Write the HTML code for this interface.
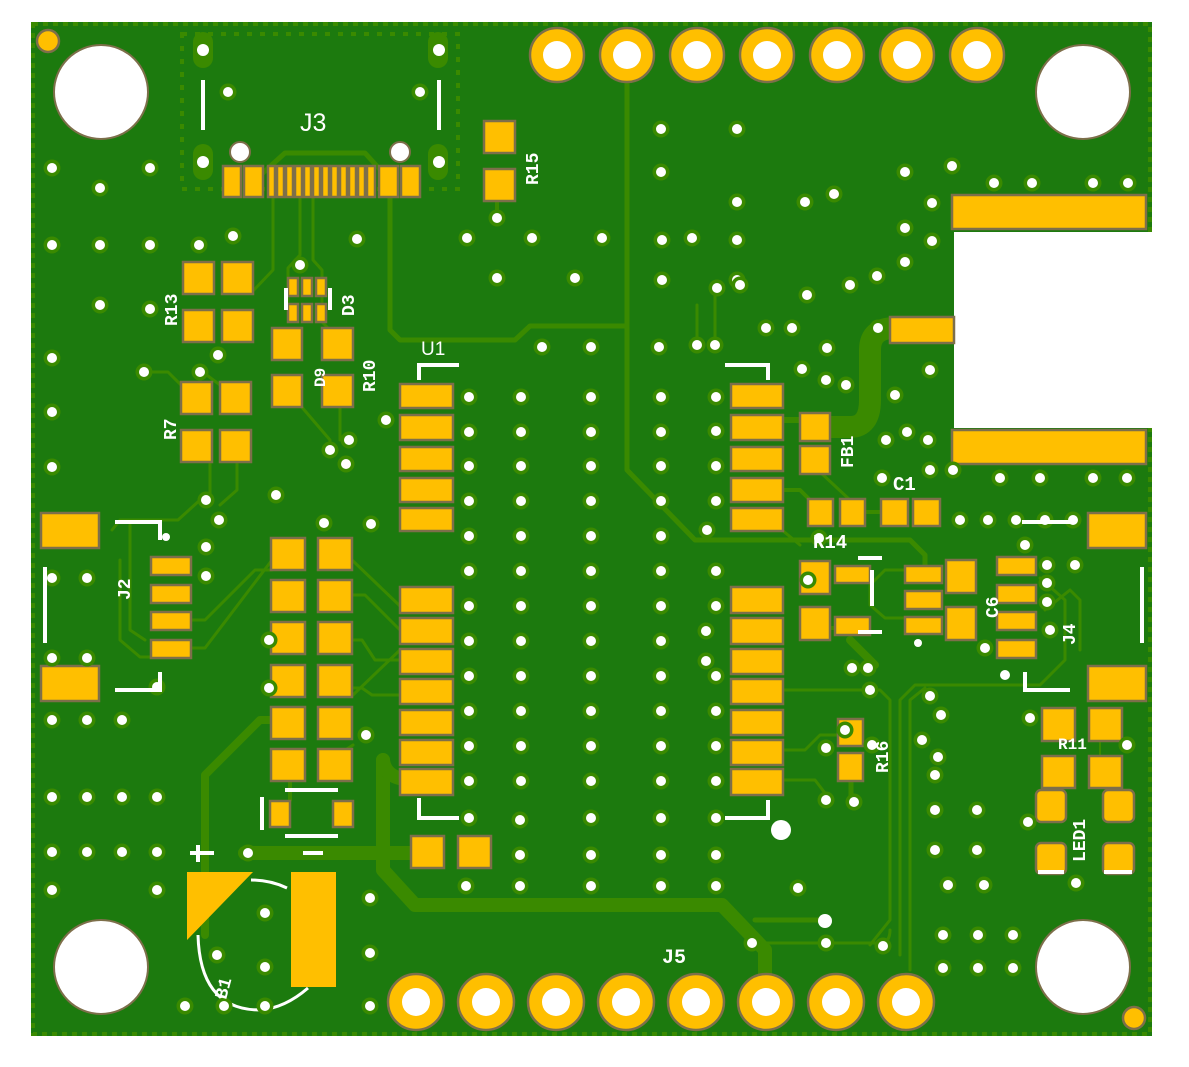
<!DOCTYPE html>
<html><head><meta charset="utf-8"><style>
html,body{margin:0;padding:0;background:#fff;}
svg{display:block;}
text{font-family:"Liberation Mono","DejaVu Sans Mono",monospace;fill:#fff;font-weight:bold;}
</style></head><body>
<svg width="1189" height="1067" viewBox="0 0 1189 1067" xmlns="http://www.w3.org/2000/svg">
<defs>
<g id="v"><circle r="8.5" fill="#3a8a00"/><circle r="5" fill="#fff"/></g>
</defs>
<!-- board -->
<rect x="31" y="22" width="1121" height="1014" fill="#1c7a0e"/>
<rect x="33" y="24" width="1117" height="1010" fill="none" stroke="#3a8a00" stroke-width="4" stroke-dasharray="5 5"/>
<!-- cutout -->
<rect x="954" y="232" width="200" height="196" fill="#fff"/>

<!-- J3 frame dotted -->
<rect x="182" y="34" width="276" height="155" fill="none" stroke="#3a8a00" stroke-width="4" stroke-dasharray="5 8"/>

<!-- traces -->
<g fill="none" stroke="#3a8a00" stroke-linecap="round" stroke-linejoin="round">
<path d="M627 80 V470 L695 540 H910 L925 555 V565" stroke-width="5"/>
<path d="M390 190 V330 L400 340 H515 L530 326 H627" stroke-width="5"/>
<path d="M255 180 L285 153 H365 L385 175" stroke-width="5"/>
<path d="M273 192 V270 L252 292" stroke-width="3"/>
<path d="M300 192 V255 L288 268 V305" stroke-width="3"/>
<path d="M313 192 V260 L322 270 V322 L330 330" stroke-width="3"/>
<path d="M815 427 H850 Q870 427 870 400 V350 Q870 328 895 328" stroke-width="22"/>
<path d="M383 760 V870 L415 905 H722 L765 950 V975" stroke-width="14"/>
<path d="M245 853 H415" stroke-width="14"/>
<path d="M415 780 Q385 780 383 760" stroke-width="14"/>
<path d="M205 935 V775 L260 720 H272" stroke-width="8"/>
<path d="M353 695 L400 650" stroke-width="3"/>
<path d="M330 760 L353 745" stroke-width="3"/>
<path d="M290 782 V800" stroke-width="4"/>
<path d="M120 560 V640 L140 657 H151" stroke-width="3"/>
<path d="M130 525 V630 L145 640" stroke-width="3"/>
<path d="M191 648 H205 L272 560" stroke-width="3"/>
<path d="M191 620 H205 L255 570 H272" stroke-width="3"/>
<path d="M352 560 L400 606" stroke-width="3"/>
<path d="M352 595 H365 L400 630" stroke-width="3"/>
<path d="M352 640 H362 L375 660 H400" stroke-width="3"/>
<path d="M352 688 H362 L372 695 H400" stroke-width="3"/>
<path d="M200 500 L178 520 H120 L112 530" stroke-width="3"/>
<path d="M210 462 V500" stroke-width="3"/>
<path d="M237 462 V490 L220 505" stroke-width="3"/>
<path d="M140 372 H168 L181 385" stroke-width="3"/>
<path d="M200 370 L220 385" stroke-width="3"/>
<path d="M300 405 L330 440 V452" stroke-width="3"/>
<path d="M340 407 V440" stroke-width="3"/>
<path d="M497 200 V218" stroke-width="4"/>
<path d="M783 490 H800 L810 500" stroke-width="4"/>
<path d="M820 472 L850 500" stroke-width="3"/>
<path d="M865 512 H881" stroke-width="4"/>
<path d="M782 530 L800 545" stroke-width="3"/>
<path d="M830 628 H835" stroke-width="4"/>
<path d="M850 640 L875 665" stroke-width="8"/>
<path d="M935 570 H885 L870 585 V605 L885 618 H907" stroke-width="3"/>
<path d="M782 690 H880 L890 700 V920 L870 945" stroke-width="3"/>
<path d="M900 955 V700 L915 685 H1040 L1065 660 V600 L1040 578" stroke-width="3"/>
<path d="M910 970 V700 L925 688" stroke-width="3"/>
<path d="M782 750 H805 L820 735 H838" stroke-width="3"/>
<path d="M782 780 H815 L828 797" stroke-width="3"/>
<path d="M851 781 V800" stroke-width="5"/>
<path d="M1045 610 L1070 590 L1080 600 V650" stroke-width="3"/>
<path d="M1100 741 V760" stroke-width="2"/>
<path d="M1105 788 L1120 800" stroke-width="3"/>
<path d="M782 420 H800" stroke-width="6"/>
<path d="M715 285 V348" stroke-width="3"/>
<path d="M697 305 V348" stroke-width="3"/>
<path d="M820 920 L755 920" stroke-width="5"/>
<path d="M762 943 H880 Q890 943 890 930" stroke-width="3"/>
</g>

<!-- J3 slots -->
<g fill="#3a8a00"><rect x="193" y="32" width="20" height="36" rx="10"/><rect x="193" y="144" width="20" height="36" rx="10"/><rect x="428" y="32" width="20" height="36" rx="10"/><rect x="428" y="144" width="20" height="36" rx="10"/></g>
<g fill="#fff"><circle cx="203" cy="50" r="6"/><circle cx="203" cy="162" r="6"/><circle cx="439" cy="50" r="6"/><circle cx="439" cy="162" r="6"/></g>
<g stroke="#fff" stroke-width="4"><line x1="203" y1="80" x2="203" y2="130"/><line x1="439" y1="80" x2="439" y2="130"/></g>
<circle cx="240" cy="152" r="10" fill="#fff" stroke="#7d6f4a" stroke-width="2"/>
<circle cx="400" cy="152" r="10" fill="#fff" stroke="#7d6f4a" stroke-width="2"/>

<!-- pads -->
<g fill="#ffbf00" stroke="#7d6f4a" stroke-width="2.5">
<!-- J3 pads -->
<rect x="223" y="166" width="18" height="31"/><rect x="244" y="166" width="19" height="31"/>
<rect x="268" y="166" width="7" height="31"/><rect x="277" y="166" width="7" height="31"/><rect x="286" y="166" width="7" height="31"/><rect x="295" y="166" width="7" height="31"/><rect x="304" y="166" width="7" height="31"/><rect x="313" y="166" width="7" height="31"/><rect x="322" y="166" width="7" height="31"/><rect x="331" y="166" width="7" height="31"/><rect x="340" y="166" width="7" height="31"/><rect x="349" y="166" width="7" height="31"/><rect x="358" y="166" width="7" height="31"/><rect x="367" y="166" width="8" height="31"/>
<rect x="379" y="166" width="19" height="31"/><rect x="401" y="166" width="19" height="31"/>
<!-- R15 -->
<rect x="484" y="121" width="31" height="32"/><rect x="484" y="169" width="31" height="32"/>
<!-- R13/R12 -->
<rect x="183" y="262" width="31" height="32"/><rect x="222" y="262" width="31" height="32"/><rect x="183" y="310" width="31" height="32"/><rect x="222" y="310" width="31" height="32"/>
<!-- R7/R8 -->
<rect x="181" y="382" width="31" height="32"/><rect x="220" y="382" width="31" height="32"/><rect x="181" y="430" width="31" height="32"/><rect x="220" y="430" width="31" height="32"/>
<!-- D3 -->
<rect x="288" y="278" width="10" height="18"/><rect x="302" y="278" width="10" height="18"/><rect x="316" y="278" width="10" height="18"/>
<rect x="288" y="304" width="10" height="18"/><rect x="302" y="304" width="10" height="18"/><rect x="316" y="304" width="10" height="18"/>
<!-- D9/R10 -->
<rect x="272" y="328" width="30" height="32"/><rect x="322" y="328" width="31" height="32"/><rect x="272" y="375" width="30" height="32"/><rect x="322" y="375" width="31" height="32"/>
<!-- U1 left -->
<rect x="400" y="384" width="53" height="24"/><rect x="400" y="415" width="53" height="25"/><rect x="400" y="447" width="53" height="24"/><rect x="400" y="478" width="53" height="24"/><rect x="400" y="508" width="53" height="23"/>
<rect x="400" y="587" width="53" height="26"/><rect x="400" y="618" width="53" height="26"/><rect x="400" y="649" width="53" height="25"/><rect x="400" y="679" width="53" height="25"/><rect x="400" y="710" width="53" height="25"/><rect x="400" y="740" width="53" height="25"/><rect x="400" y="769" width="53" height="26"/>
<!-- U1 right -->
<rect x="731" y="384" width="52" height="24"/><rect x="731" y="415" width="52" height="25"/><rect x="731" y="447" width="52" height="24"/><rect x="731" y="478" width="52" height="24"/><rect x="731" y="508" width="52" height="23"/>
<rect x="731" y="587" width="52" height="26"/><rect x="731" y="618" width="52" height="26"/><rect x="731" y="649" width="52" height="25"/><rect x="731" y="679" width="52" height="25"/><rect x="731" y="710" width="52" height="25"/><rect x="731" y="740" width="52" height="25"/><rect x="731" y="769" width="52" height="26"/>
<!-- left column pads -->
<rect x="271" y="538" width="34" height="32"/><rect x="318" y="538" width="34" height="32"/>
<rect x="271" y="580" width="34" height="32"/><rect x="318" y="580" width="34" height="32"/>
<rect x="271" y="622" width="34" height="32"/><rect x="318" y="622" width="34" height="32"/>
<rect x="271" y="665" width="34" height="32"/><rect x="318" y="665" width="34" height="32"/>
<rect x="271" y="707" width="34" height="32"/><rect x="318" y="707" width="34" height="32"/>
<rect x="271" y="749" width="34" height="32"/><rect x="318" y="749" width="34" height="32"/>
<rect x="270" y="801" width="20" height="26"/><rect x="333" y="801" width="20" height="26"/>
<rect x="411" y="836" width="33" height="32"/><rect x="458" y="836" width="33" height="32"/>
<!-- J2 -->
<rect x="41" y="513" width="58" height="35"/><rect x="41" y="666" width="58" height="35"/>
<rect x="151" y="557" width="40" height="18"/><rect x="151" y="585" width="40" height="18"/><rect x="151" y="612" width="40" height="18"/><rect x="151" y="640" width="40" height="18"/>
<!-- J4 -->
<rect x="1088" y="513" width="58" height="35"/><rect x="1088" y="666" width="58" height="35"/>
<rect x="997" y="557" width="39" height="18"/><rect x="997" y="585" width="39" height="18"/><rect x="997" y="612" width="39" height="18"/><rect x="997" y="640" width="39" height="18"/>
<!-- middle right cluster -->
<rect x="800" y="561" width="30" height="33"/><rect x="835" y="566" width="35" height="17"/>
<rect x="800" y="607" width="30" height="33"/><rect x="835" y="617" width="35" height="18"/>
<rect x="905" y="566" width="37" height="17"/><rect x="905" y="591" width="37" height="18"/><rect x="905" y="617" width="37" height="17"/>
<rect x="946" y="560" width="30" height="33"/><rect x="946" y="607" width="30" height="33"/>
<!-- FB1 -->
<rect x="800" y="413" width="30" height="28"/><rect x="800" y="446" width="30" height="28"/>
<!-- R14/C1 -->
<rect x="808" y="499" width="25" height="27"/><rect x="840" y="499" width="25" height="27"/><rect x="881" y="499" width="27" height="27"/><rect x="913" y="499" width="27" height="27"/>
<!-- R16 -->
<rect x="838" y="719" width="25" height="27"/><rect x="838" y="753" width="25" height="28"/>
<!-- R11 -->
<rect x="1042" y="708" width="33" height="33"/><rect x="1089" y="708" width="33" height="33"/><rect x="1042" y="756" width="33" height="32"/><rect x="1089" y="756" width="33" height="32"/>
<!-- LED1 -->
<rect x="1036" y="790" width="30" height="32" rx="5"/><rect x="1103" y="790" width="31" height="32" rx="5"/><rect x="1036" y="843" width="30" height="31" rx="5"/><rect x="1103" y="843" width="31" height="31" rx="5"/>
<!-- RF / antenna -->
<rect x="890" y="317" width="64" height="26"/>
<rect x="952" y="195" width="194" height="34"/><rect x="952" y="430" width="194" height="34"/>
</g>
<!-- B1 -->
<polygon points="187,872 253,872 187,940" fill="#ffbf00"/>
<rect x="291" y="872" width="45" height="115" fill="#ffbf00"/>
<path d="M251 880 Q270 880 287 888 M198 935 Q200 1010 260 1010 Q285 1008 308 988" fill="none" stroke="#fff" stroke-width="3"/>

<!-- header pins -->
<g fill="#ffbf00" stroke="#7d6f4a" stroke-width="2.5">
<circle cx="557" cy="55" r="27"/><circle cx="627" cy="55" r="27"/><circle cx="697" cy="55" r="27"/><circle cx="767" cy="55" r="27"/><circle cx="837" cy="55" r="27"/><circle cx="907" cy="55" r="27"/><circle cx="977" cy="55" r="27"/>
<circle cx="416" cy="1002" r="28"/><circle cx="486" cy="1002" r="28"/><circle cx="556" cy="1002" r="28"/><circle cx="626" cy="1002" r="28"/><circle cx="696" cy="1002" r="28"/><circle cx="766" cy="1002" r="28"/><circle cx="836" cy="1002" r="28"/><circle cx="906" cy="1002" r="28"/>
<circle cx="48" cy="41" r="11"/><circle cx="1134" cy="1018" r="11"/>
</g>
<g fill="#fff">
<circle cx="557" cy="55" r="14"/><circle cx="627" cy="55" r="14"/><circle cx="697" cy="55" r="14"/><circle cx="767" cy="55" r="14"/><circle cx="837" cy="55" r="14"/><circle cx="907" cy="55" r="14"/><circle cx="977" cy="55" r="14"/>
<circle cx="416" cy="1002" r="14"/><circle cx="486" cy="1002" r="14"/><circle cx="556" cy="1002" r="14"/><circle cx="626" cy="1002" r="14"/><circle cx="696" cy="1002" r="14"/><circle cx="766" cy="1002" r="14"/><circle cx="836" cy="1002" r="14"/><circle cx="906" cy="1002" r="14"/>
</g>
<!-- mounting holes -->
<g fill="#fff" stroke="#7d6f4a" stroke-width="2">
<ellipse cx="101" cy="92" rx="47" ry="47"/><ellipse cx="1083" cy="92" rx="47" ry="47"/><ellipse cx="101" cy="967" rx="47" ry="47"/><ellipse cx="1083" cy="967" rx="47" ry="47"/>
</g>

<!-- vias -->
<g>
<use href="#v" x="52" y="168"/><use href="#v" x="100" y="188"/><use href="#v" x="150" y="168"/>
<use href="#v" x="52" y="245"/><use href="#v" x="100" y="245"/><use href="#v" x="150" y="245"/><use href="#v" x="100" y="305"/><use href="#v" x="150" y="309"/><use href="#v" x="52" y="358"/><use href="#v" x="52" y="412"/><use href="#v" x="52" y="467"/>
<use href="#v" x="228" y="92"/><use href="#v" x="233" y="236"/><use href="#v" x="199" y="245"/><use href="#v" x="420" y="92"/><use href="#v" x="357" y="239"/><use href="#v" x="300" y="265"/><use href="#v" x="218" y="355"/><use href="#v" x="200" y="372"/><use href="#v" x="144" y="372"/><use href="#v" x="330" y="450"/><use href="#v" x="349" y="440"/><use href="#v" x="346" y="464"/><use href="#v" x="276" y="495"/><use href="#v" x="324" y="523"/><use href="#v" x="371" y="524"/><use href="#v" x="386" y="420"/><use href="#v" x="206" y="500"/><use href="#v" x="219" y="520"/><use href="#v" x="206" y="547"/><use href="#v" x="206" y="576"/>
<use href="#v" x="497" y="218"/><use href="#v" x="467" y="238"/><use href="#v" x="532" y="238"/><use href="#v" x="602" y="238"/><use href="#v" x="497" y="278"/><use href="#v" x="575" y="278"/><use href="#v" x="662" y="280"/><use href="#v" x="737" y="280"/><use href="#v" x="662" y="240"/><use href="#v" x="737" y="240"/><use href="#v" x="692" y="238"/><use href="#v" x="737" y="202"/><use href="#v" x="661" y="129"/><use href="#v" x="737" y="129"/><use href="#v" x="661" y="172"/><use href="#v" x="805" y="202"/><use href="#v" x="905" y="172"/><use href="#v" x="834" y="194"/><use href="#v" x="952" y="166"/><use href="#v" x="994" y="183"/><use href="#v" x="1032" y="183"/><use href="#v" x="1093" y="183"/><use href="#v" x="1128" y="183"/><use href="#v" x="932" y="203"/><use href="#v" x="932" y="241"/><use href="#v" x="905" y="228"/><use href="#v" x="905" y="262"/><use href="#v" x="877" y="276"/><use href="#v" x="850" y="285"/><use href="#v" x="807" y="295"/><use href="#v" x="792" y="328"/><use href="#v" x="827" y="348"/><use href="#v" x="878" y="328"/><use href="#v" x="846" y="385"/><use href="#v" x="740" y="285"/><use href="#v" x="717" y="288"/><use href="#v" x="697" y="345"/><use href="#v" x="715" y="345"/><use href="#v" x="659" y="347"/><use href="#v" x="591" y="347"/><use href="#v" x="542" y="347"/><use href="#v" x="766" y="328"/><use href="#v" x="802" y="369"/><use href="#v" x="826" y="380"/><use href="#v" x="895" y="395"/><use href="#v" x="930" y="370"/><use href="#v" x="907" y="432"/><use href="#v" x="928" y="440"/><use href="#v" x="886" y="440"/><use href="#v" x="930" y="470"/><use href="#v" x="882" y="478"/><use href="#v" x="953" y="470"/><use href="#v" x="1000" y="478"/><use href="#v" x="1040" y="478"/><use href="#v" x="1093" y="478"/><use href="#v" x="1127" y="478"/>
<use href="#v" x="960" y="520"/><use href="#v" x="988" y="520"/><use href="#v" x="1016" y="520"/><use href="#v" x="1045" y="520"/><use href="#v" x="1073" y="520"/><use href="#v" x="1047" y="565"/><use href="#v" x="1047" y="583"/><use href="#v" x="1047" y="602"/><use href="#v" x="1050" y="630"/><use href="#v" x="1075" y="565"/><use href="#v" x="1025" y="545"/><use href="#v" x="985" y="648"/>
<use href="#v" x="930" y="696"/><use href="#v" x="941" y="715"/><use href="#v" x="922" y="740"/><use href="#v" x="938" y="757"/><use href="#v" x="935" y="775"/><use href="#v" x="935" y="810"/><use href="#v" x="977" y="810"/><use href="#v" x="935" y="850"/><use href="#v" x="977" y="850"/><use href="#v" x="948" y="885"/><use href="#v" x="984" y="885"/><use href="#v" x="943" y="935"/><use href="#v" x="978" y="935"/><use href="#v" x="1013" y="935"/><use href="#v" x="943" y="968"/><use href="#v" x="978" y="968"/><use href="#v" x="1013" y="968"/><use href="#v" x="1030" y="718"/><use href="#v" x="1127" y="745"/><use href="#v" x="1076" y="883"/><use href="#v" x="1028" y="822"/>
<use href="#v" x="845" y="730"/><use href="#v" x="826" y="800"/><use href="#v" x="854" y="802"/><use href="#v" x="870" y="690"/><use href="#v" x="872" y="745"/><use href="#v" x="826" y="748"/><use href="#v" x="883" y="946"/><use href="#v" x="826" y="943"/><use href="#v" x="752" y="943"/><use href="#v" x="798" y="888"/><use href="#v" x="808" y="580"/><use href="#v" x="707" y="530"/><use href="#v" x="819" y="538"/><use href="#v" x="868" y="668"/><use href="#v" x="852" y="668"/>
<use href="#v" x="52" y="578"/><use href="#v" x="87" y="578"/><use href="#v" x="52" y="658"/><use href="#v" x="87" y="658"/><use href="#v" x="52" y="720"/><use href="#v" x="87" y="720"/><use href="#v" x="122" y="720"/><use href="#v" x="157" y="687"/><use href="#v" x="52" y="797"/><use href="#v" x="87" y="797"/><use href="#v" x="122" y="797"/><use href="#v" x="157" y="797"/><use href="#v" x="52" y="852"/><use href="#v" x="87" y="852"/><use href="#v" x="122" y="852"/><use href="#v" x="157" y="852"/><use href="#v" x="52" y="890"/><use href="#v" x="157" y="890"/><use href="#v" x="248" y="853"/><use href="#v" x="265" y="913"/><use href="#v" x="217" y="955"/><use href="#v" x="265" y="967"/><use href="#v" x="185" y="1006"/><use href="#v" x="224" y="1006"/><use href="#v" x="265" y="1006"/><use href="#v" x="370" y="898"/><use href="#v" x="370" y="953"/><use href="#v" x="370" y="1006"/><use href="#v" x="269" y="640"/><use href="#v" x="269" y="688"/><use href="#v" x="366" y="735"/>
<use href="#v" x="520" y="855"/><use href="#v" x="520" y="886"/><use href="#v" x="591" y="886"/><use href="#v" x="661" y="886"/><use href="#v" x="716" y="886"/><use href="#v" x="716" y="855"/><use href="#v" x="591" y="855"/><use href="#v" x="661" y="855"/><use href="#v" x="466" y="886"/><use href="#v" x="520" y="820"/>
</g>
<!-- via grid in U1 -->
<g>
<use href="#v" x="469" y="397"/><use href="#v" x="521" y="397"/><use href="#v" x="591" y="397"/><use href="#v" x="661" y="397"/>
<use href="#v" x="469" y="432"/><use href="#v" x="521" y="432"/><use href="#v" x="591" y="432"/><use href="#v" x="661" y="432"/>
<use href="#v" x="469" y="466"/><use href="#v" x="521" y="466"/><use href="#v" x="591" y="466"/><use href="#v" x="661" y="466"/>
<use href="#v" x="469" y="501"/><use href="#v" x="521" y="501"/><use href="#v" x="591" y="501"/><use href="#v" x="661" y="501"/>
<use href="#v" x="469" y="536"/><use href="#v" x="521" y="536"/><use href="#v" x="591" y="536"/><use href="#v" x="661" y="536"/>
<use href="#v" x="469" y="571"/><use href="#v" x="521" y="571"/><use href="#v" x="591" y="571"/><use href="#v" x="661" y="571"/><use href="#v" x="716" y="571"/>
<use href="#v" x="469" y="606"/><use href="#v" x="521" y="606"/><use href="#v" x="591" y="606"/><use href="#v" x="661" y="606"/><use href="#v" x="716" y="606"/>
<use href="#v" x="469" y="641"/><use href="#v" x="521" y="641"/><use href="#v" x="591" y="641"/><use href="#v" x="661" y="641"/><use href="#v" x="706" y="631"/>
<use href="#v" x="469" y="676"/><use href="#v" x="521" y="676"/><use href="#v" x="591" y="676"/><use href="#v" x="661" y="676"/><use href="#v" x="716" y="676"/>
<use href="#v" x="469" y="711"/><use href="#v" x="521" y="711"/><use href="#v" x="591" y="711"/><use href="#v" x="661" y="711"/><use href="#v" x="716" y="711"/>
<use href="#v" x="469" y="746"/><use href="#v" x="521" y="746"/><use href="#v" x="591" y="746"/><use href="#v" x="661" y="746"/><use href="#v" x="716" y="746"/>
<use href="#v" x="469" y="781"/><use href="#v" x="521" y="781"/><use href="#v" x="591" y="781"/><use href="#v" x="661" y="781"/><use href="#v" x="716" y="781"/>
<use href="#v" x="469" y="818"/><use href="#v" x="591" y="818"/><use href="#v" x="661" y="818"/><use href="#v" x="716" y="818"/><use href="#v" x="706" y="661"/>
<use href="#v" x="716" y="431"/><use href="#v" x="716" y="466"/><use href="#v" x="716" y="501"/><use href="#v" x="716" y="397"/>
</g>

<!-- silkscreen -->
<g stroke="#fff" stroke-width="4" fill="none">
<path d="M115 522 H160 V540"/><path d="M115 690 H160 V672"/><path d="M45 567 V643"/>
<path d="M1022 522 H1070"/><path d="M1025 672 V690 H1070"/><path d="M1142 567 V643"/>
<path d="M419 380 V365 H459"/><path d="M419 798 V818 H459"/>
<path d="M725 365 H768 V380"/><path d="M768 800 V818 H725"/>
<path d="M262 797 V830"/><path d="M285 790 H338"/><path d="M285 836 H338"/>
<path d="M286 288 V310"/><path d="M330 288 V310"/>
<path d="M872 570 V606"/><path d="M858 558 H882"/><path d="M858 632 H882"/>
<path d="M1038 872 H1064"/><path d="M1104 872 H1132"/>
<path d="M198 845 V862 M190 853 H214"/><path d="M303 853 H323"/>
</g>
<circle cx="781" cy="830" r="10" fill="#fff"/>
<circle cx="825" cy="921" r="7" fill="#fff"/>
<circle cx="1005" cy="675" r="5" fill="#fff"/>
<circle cx="166" cy="537" r="4" fill="#fff"/>
<circle cx="918" cy="643" r="4" fill="#fff"/>

<!-- labels -->
<text x="300" y="131" font-size="25" style="font-family:'Liberation Sans',sans-serif;font-weight:normal">J3</text>
<text x="421" y="355" font-size="19" style="font-family:'Liberation Sans',sans-serif;font-weight:normal">U1</text>
<text x="813" y="548" font-size="19">R14</text>
<text x="893" y="490" font-size="19">C1</text>
<text x="662" y="963" font-size="20">J5</text>
<text x="1058" y="749" font-size="16">R11</text>
<text transform="translate(538,185) rotate(-90)" font-size="18">R15</text>
<text transform="translate(177,326) rotate(-90)" font-size="18">R13</text>
<text transform="translate(176,440) rotate(-90)" font-size="18">R7</text>
<text transform="translate(354,316) rotate(-90)" font-size="18">D3</text>
<text transform="translate(375,392) rotate(-90)" font-size="18">R10</text>
<text transform="translate(325,387) rotate(-90)" font-size="16">D9</text>
<text transform="translate(130,600) rotate(-90)" font-size="18">J2</text>
<text transform="translate(853,468) rotate(-90)" font-size="18">FB1</text>
<text transform="translate(888,773) rotate(-90)" font-size="18">R16</text>
<text transform="translate(1075,645) rotate(-90)" font-size="18">J4</text>
<text transform="translate(998,618) rotate(-90)" font-size="18">C6</text>
<text transform="translate(1085,862) rotate(-90)" font-size="18">LED1</text>
<text transform="translate(226,1000) rotate(-75)" font-size="18">B1</text>
</svg>
</body></html>
